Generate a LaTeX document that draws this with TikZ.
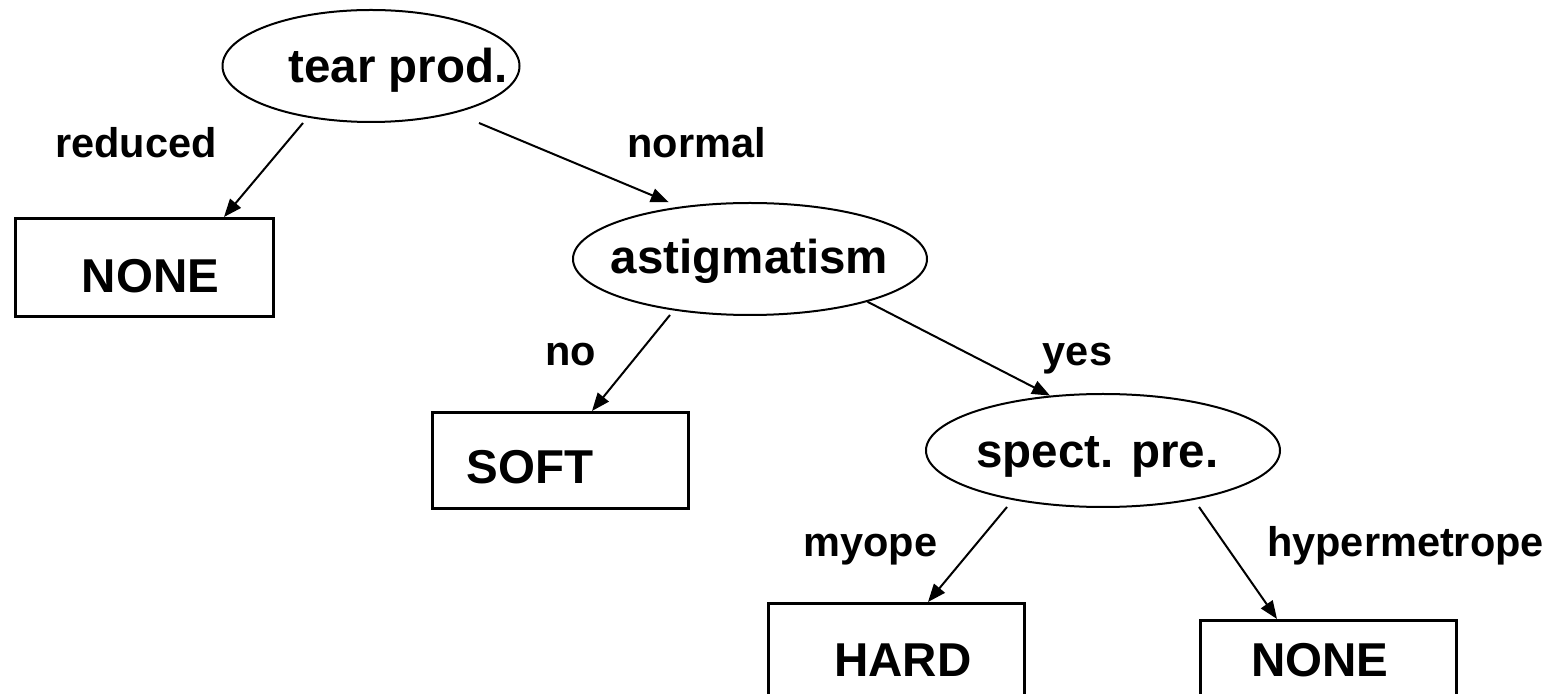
\documentclass[tikz,border=0pt]{standalone}
\usepackage{fontspec}
\setmainfont{Liberation Sans}
\usetikzlibrary{shapes.geometric,arrows.meta}
\tikzset{
  splitnode/.style={draw=black, line width=1pt, ellipse, inner sep=0pt, minimum width=177pt, minimum height=56pt},
  leafbox/.style={draw=black, line width=1.4pt, rectangle, inner sep=0pt, minimum width=128pt, minimum height=48.5pt, anchor=north west},
  nodetext/.style={inner sep=0pt, anchor=base, font=\fontsize{23.75}{28}\selectfont\bfseries},
  edgetext/.style={inner sep=0pt, anchor=base, font=\fontsize{20.75}{25}\selectfont\bfseries},
  branch/.style={draw=black, line width=1pt, -{Triangle[length=9pt,width=7pt]}}
}
\begin{document}
\begin{tikzpicture}[x=0.5pt,y=-0.5pt]
\useasboundingbox (0,0) rectangle (1558,694);
% decision nodes
\node[splitnode, minimum width=148.5pt] (tp) at (371,66) {};
\node[nodetext] (tpt) at (398,83) {tear prod.};
\node[splitnode] (as) at (750,259) {};
\node[nodetext] (ast) at (749.5,274) {astigmatism};
\node[splitnode, minimum height=56.5pt] (sp) at (1103,450.5) {};
\node[nodetext] (spt) at (1097.5,468) {spect. pre.};
% leaves
\node[leafbox, minimum width=129pt, minimum height=49pt] (n1) at (14,217) {};
\node[nodetext] (n1t) at (150.5,293) {NONE};
\node[leafbox, minimum height=48pt] (sf) at (431,411) {};
\node[nodetext] (sft) at (530,484) {SOFT};
\node[leafbox, minimum height=49pt] (hd) at (767,602) {};
\node[nodetext] (hdt) at (903,676) {HARD};
\node[leafbox, minimum height=49pt] (n2) at (1199,619) {};
\node[nodetext] (n2t) at (1320,676) {NONE};
% branch labels
\node[edgetext] (lred) at (136,158) {reduced};
\node[edgetext] (lnor) at (696.5,158) {normal};
\node[edgetext] (lno) at (570.5,366) {no};
\node[edgetext] (lyes) at (1077.5,366) {yes};
\node[edgetext] (lmyo) at (870.5,557) {myope};
\node[edgetext] (lhyp) at (1405.5,557) {hypermetrope};
% free start points of branches
\coordinate (s1) at (303,123);
\coordinate (s2) at (479,123);
\coordinate (s3) at (670,315);
\coordinate (s5) at (1007,507);
\coordinate (s6) at (1199,507);
% connectors
\draw[branch] (s1) -- ([xshift=105pt]n1.north west);
\draw[branch] (s2) -- ([yshift=3pt]as.148);
\draw[branch] (s3) -- ([xshift=80.5pt]sf.north west);
\draw[branch] (as.-20) -- (sp.134.5);
\draw[branch] (s5) -- ([xshift=80.5pt]hd.north west);
\draw[branch] (s6) -- ([xshift=39pt]n2.north west);
\end{tikzpicture}
\end{document}
